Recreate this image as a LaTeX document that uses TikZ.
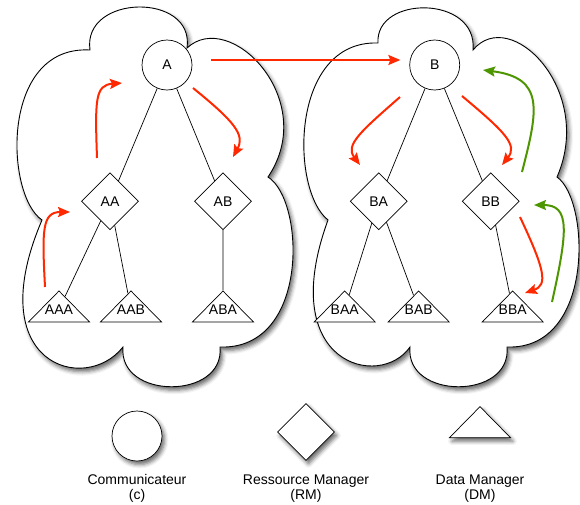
\documentclass[tikz,border=0pt]{standalone}
\usepackage{fontspec}
\setmainfont{Liberation Sans}
\usetikzlibrary{positioning, shapes.geometric, arrows.meta, shadows.blur}
\definecolor{msgred}{RGB}{255,40,0}
\definecolor{ackgreen}{RGB}{78,150,0}

\begin{document}
\begin{tikzpicture}[x=1pt, y=-1pt, line width=0.7pt,
    every node/.style={font=\fontsize{14}{15}\selectfont},
    comm/.style={circle, draw, fill=white, minimum size=50pt, inner sep=0pt},
    rm/.style={diamond, draw, fill=white, minimum width=57pt, minimum height=57pt, inner sep=0pt},
    dm/.style={isosceles triangle, isosceles triangle stretches, shape border rotate=90, draw, fill=white, minimum width=61pt, minimum height=31pt, inner xsep=-14pt, inner ysep=-5pt},
    shadowed/.style={blur shadow={shadow xshift=2.5pt, shadow yshift=-3.5pt, shadow blur radius=4pt, shadow opacity=60}},
    cloudbox/.style={draw, fill=white, line width=0.9pt, shadowed},
    msg/.style={msgred, line width=2pt, -{Stealth[length=12pt, width=10pt, inset=2pt]}},
    ack/.style={msg, ackgreen},
    legend/.style={align=center, inner sep=0pt}]
\useasboundingbox (0,0) rectangle (580,504);

% les deux nuages
\draw[cloudbox] (42,220) .. controls (5,195) and (0,45) .. (90,50)
    .. controls (82,-6) and (195,-8) .. (187,48)
    .. controls (230,8) and (320,100) .. (268,177)
    .. controls (305,200) and (310,350) .. (220,347)
    .. controls (225,400) and (118,400) .. (123,347)
    .. controls (85,395) and (-20,365) .. cycle;
\draw[cloudbox] (328,220) .. controls (290,190) and (290,40) .. (378,43)
    .. controls (375,-5) and (478,-5) .. (473,50)
    .. controls (510,5) and (595,90) .. (557,177)
    .. controls (590,200) and (595,350) .. (507,347)
    .. controls (512,400) and (405,400) .. (410,347)
    .. controls (380,390) and (275,365) .. cycle;

% arbre A
\node[comm] (A) at (167,65) {A};
\node[rm, below=82pt of A, xshift=-57pt] (AA) {AA};
\node[rm, below=82pt of A, xshift=56pt] (AB) {AB};
\node[dm, below=60pt of AA, xshift=-51pt] (AAA) {AAA};
\node[dm, below=60pt of AA, xshift=21pt] (AAB) {AAB};
\node[dm, below=60pt of AB] (ABA) {ABA};

% arbre B
\node[comm, right=217pt of A] (B) {B};
\node[rm, below=82pt of B, xshift=-56pt] (BA) {BA};
\node[rm, below=82pt of B, xshift=56pt] (BB) {BB};
\node[dm, below=60pt of BA, xshift=-34pt] (BAA) {BAA};
\node[dm, below=60pt of BA, xshift=40pt] (BAB) {BAB};
\node[dm, below=60pt of BB, xshift=22pt] (BBA) {BBA};

\foreach \p/\c in {A/AA, A/AB, AA/AAA, AA/AAB, AB/ABA, B/BA, B/BB, BA/BAA, BA/BAB, BB/BBA}
    \draw (\p) -- (\c);

% messages
\draw[msg] (45,287) .. controls (42,230) and (42,212) .. (70,212);
\draw[msg] (97,158) .. controls (95,100) and (95,85) .. (122,83);
\draw[msg] (193,88) .. controls (235,122) and (245,135) .. (233,157);
\draw[msg] ([xshift=19pt, yshift=5pt]A.east) -- ([xshift=-9pt, yshift=5pt]B.west);
\draw[msg] (400,97) .. controls (360,132) and (345,145) .. (360,165);
\draw[msg] (462,96) .. controls (505,132) and (518,145) .. (502,165);
\draw[msg] (520,217) .. controls (545,270) and (548,285) .. (525,293);
\draw[ack] (522,172) .. controls (538,110) and (545,78) .. (483,70);
\draw[ack] (552,302) .. controls (568,230) and (570,205) .. (534,205);

% legende
\node[comm, shadowed] (c) at (137,436) {};
\node[rm, shadowed] (rm) at (306,432) {};
\node[dm, shadowed, anchor=south] (dm) at (480,438) {};
\node[legend, below=13pt of c] (lc) {Communicateur\\(c)};
\node[legend, anchor=north] (lrm) at (rm |- lc.north) {Ressource Manager\\(RM)};
\node[legend, anchor=north] (ldm) at (dm |- lc.north) {Data Manager\\(DM)};
\end{tikzpicture}
\end{document}
